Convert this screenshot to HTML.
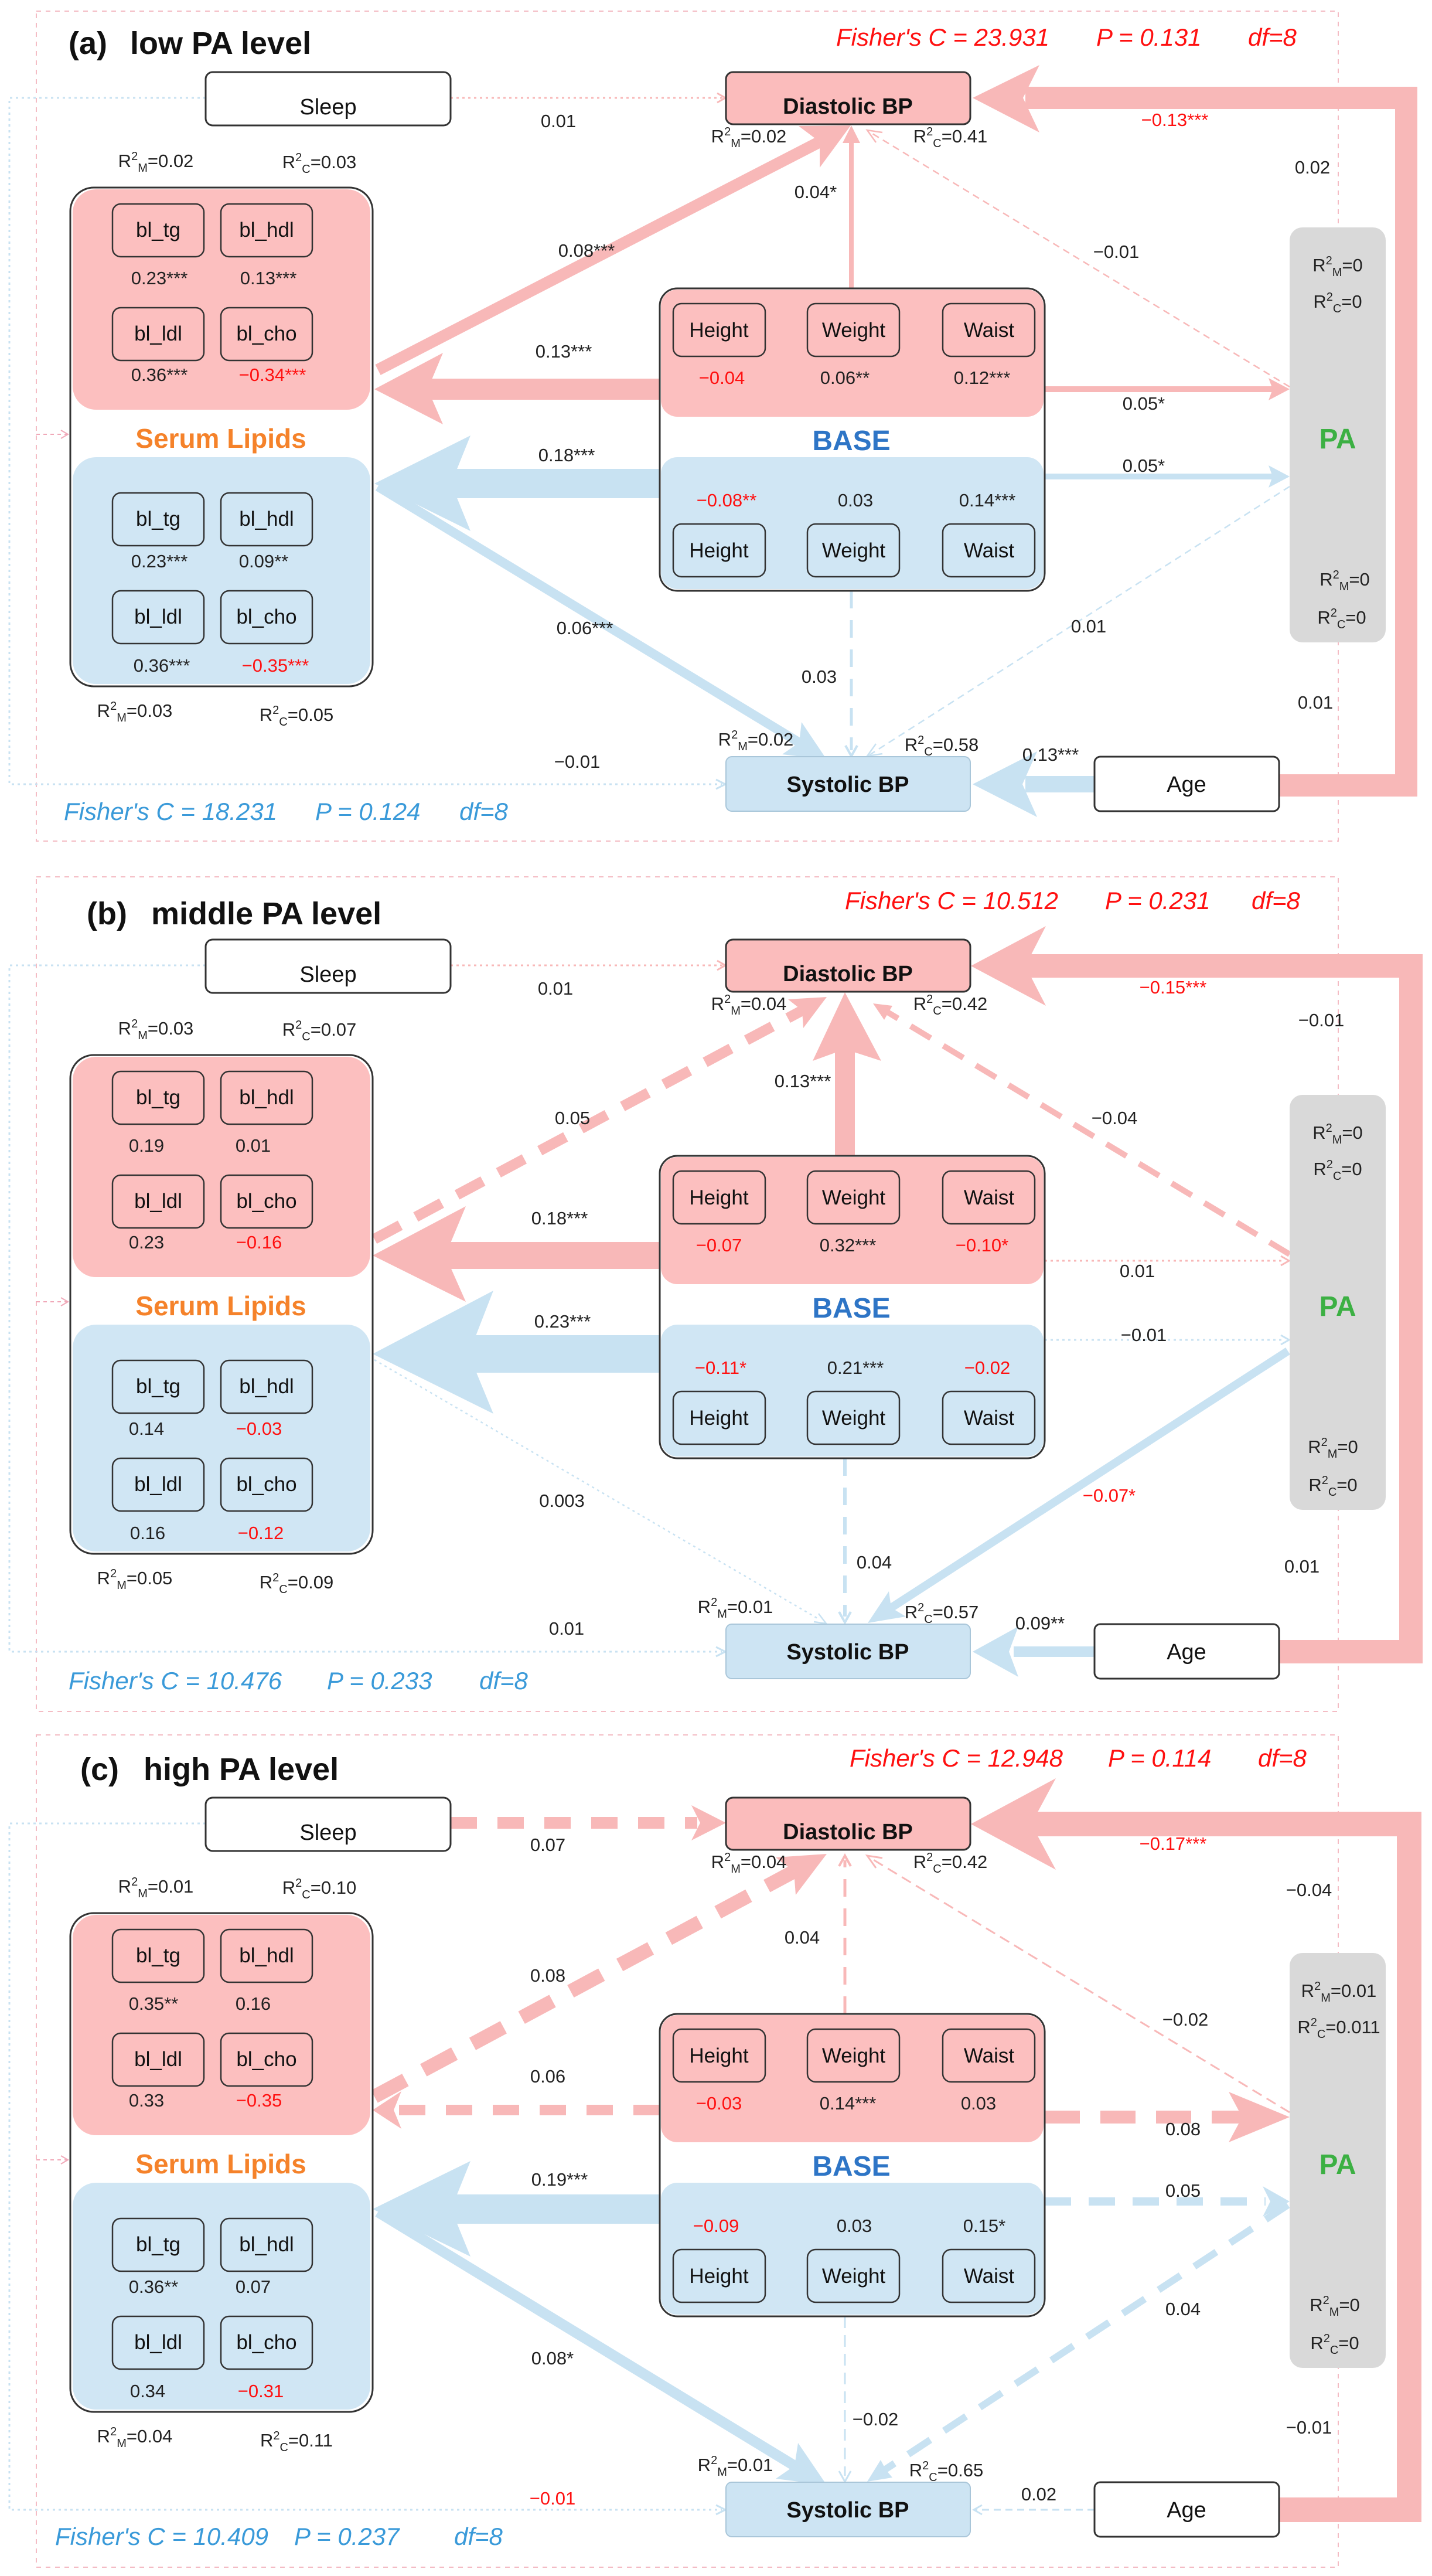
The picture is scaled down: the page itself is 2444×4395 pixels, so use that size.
<!DOCTYPE html>
<html><head><meta charset="utf-8"><style>
html,body{margin:0;padding:0;background:#fff;}
svg{display:block;font-family:"Liberation Sans",Arial,sans-serif;}
.v{font-size:31px;text-anchor:middle;fill:#222;}
.r{fill:#ff1010;}
.nd{font-size:38px;text-anchor:middle;fill:#111;}
.nb{font-size:38px;text-anchor:middle;fill:#111;font-weight:bold;}
.ib{font-size:35px;text-anchor:middle;fill:#111;}
.fr{font-size:42px;font-style:italic;fill:#ff1010;}
.fb{font-size:42px;font-style:italic;fill:#3a9ad9;}
.tt{font-size:54px;font-weight:bold;fill:#111;}
.sl{font-size:46px;font-weight:bold;fill:#f5822a;text-anchor:middle;}
.bs{font-size:48px;font-weight:bold;fill:#2e75c6;text-anchor:middle;}
.pa{font-size:48px;font-weight:bold;fill:#3cb043;text-anchor:middle;}
.box{fill:none;stroke:#333;stroke-width:3;}
.sb{fill:none;stroke:#333;stroke-width:2.5;}
.pk{fill:#fcbfbf;}
.bl{fill:#d0e6f4;}
.ar{fill:#f8b8b8;}
.ab{fill:#c8e2f2;}
</style></head><body>
<svg width="2444" height="4395" viewBox="0 0 2444 4395" xmlns="http://www.w3.org/2000/svg">

<!-- ================= PANEL A ================= -->
<g transform="translate(0,0)">
<rect x="62" y="19" width="2222" height="1416" fill="none" stroke="#f4bcc4" stroke-width="2" stroke-dasharray="8,8"/>
<!-- left dotted lines -->
<polyline points="351,167 16,167 16,1338 1232,1338" fill="none" stroke="#c8e2f2" stroke-width="3" stroke-dasharray="4,6"/>
<polyline points="1222,1330 1238,1338 1222,1346" fill="none" stroke="#c8e2f2" stroke-width="3"/>
<line x1="62" y1="741" x2="114" y2="741" stroke="#f0a8b8" stroke-width="2" stroke-dasharray="6,6"/>
<polyline points="104,734 116,741 104,748" fill="none" stroke="#f0a8b8" stroke-width="2"/>
<!-- sleep -> diastolic dotted -->
<line x1="769" y1="167" x2="1236" y2="167" stroke="#f8b8b8" stroke-width="3" stroke-dasharray="4,6"/>
<polyline points="1224,159 1238,167 1224,175" fill="none" stroke="#f8b8b8" stroke-width="3"/>
<!-- red loop -->
<polyline points="2183,1340 2400,1340 2400,167 1750,167" fill="none" stroke="#f8b8b8" stroke-width="38"/>
<polygon class="ar" points="1660,167 1774,111 1746,167 1774,226"/>
<!-- blue age -> systolic -->
<line x1="1868" y1="1338" x2="1750" y2="1338" stroke="#c8e2f2" stroke-width="28"/>
<polygon class="ab" points="1660,1338 1770,1282 1745,1338 1770,1394"/>
<!-- red BASE->serum -->
<line x1="1126" y1="664" x2="730" y2="664" stroke="#f8b8b8" stroke-width="36"/>
<polygon class="ar" points="639,664 756,602 730,664 756,724"/>
<!-- red diag serum->diastolic -->
<line x1="645" y1="631" x2="1399" y2="242" stroke="#f8b8b8" stroke-width="20"/>
<polygon class="ar" points="1452,214 1399,286 1399,242 1363,215"/>
<!-- blue BASE->serum -->
<line x1="1126" y1="825" x2="770" y2="825" stroke="#c8e2f2" stroke-width="50"/>
<polygon class="ab" points="639,825 803,743 770,825 803,906"/>
<!-- blue diag serum->systolic -->
<line x1="645" y1="830" x2="1364" y2="1267" stroke="#c8e2f2" stroke-width="16"/>
<polygon class="ab" points="1411,1296 1335,1287 1364,1267 1368,1232"/>
<!-- pink vertical BASE->diastolic -->
<line x1="1453" y1="492" x2="1453" y2="235" stroke="#f8b8b8" stroke-width="8"/>
<polygon class="ar" points="1453,214 1438,244 1468,244"/>
<!-- pink BASE->PA -->
<line x1="1783" y1="664" x2="2180" y2="664" stroke="#f8b8b8" stroke-width="10"/>
<polygon class="ar" points="2201,664 2165,645 2172,664 2165,683"/>
<!-- blue BASE->PA -->
<line x1="1783" y1="813" x2="2180" y2="813" stroke="#c8e2f2" stroke-width="10"/>
<polygon class="ab" points="2201,813 2165,794 2172,813 2165,832"/>
<!-- pink dashed PA->diastolic -->
<line x1="2201" y1="660" x2="1484" y2="225" stroke="#f8b8b8" stroke-width="2.5" stroke-dasharray="12,8"/>
<polyline points="1506,226 1480,222 1495,243" fill="none" stroke="#f8b8b8" stroke-width="2.5"/>
<!-- blue dashed PA->systolic -->
<line x1="2201" y1="830" x2="1484" y2="1288" stroke="#c8e2f2" stroke-width="2.5" stroke-dasharray="12,8"/>
<polyline points="1506,1286 1480,1290 1495,1269" fill="none" stroke="#c8e2f2" stroke-width="2.5"/>
<!-- blue dashed vertical BASE->systolic -->
<line x1="1453" y1="1008" x2="1453" y2="1280" stroke="#c8e2f2" stroke-width="5" stroke-dasharray="30,20"/>
<polyline points="1443,1272 1453,1290 1463,1272" fill="none" stroke="#c8e2f2" stroke-width="4"/>

<!-- nodes -->
<rect x="351" y="123" width="418" height="91" rx="12" fill="#fff" stroke="#333" stroke-width="3"/>
<text class="nd" x="560" y="195">Sleep</text>
<rect x="1239" y="123" width="417" height="89" rx="12" fill="#fbbcbc" stroke="#333" stroke-width="3"/>
<text class="nb" x="1447" y="194">Diastolic BP</text>
<rect x="1239" y="1291" width="417" height="93" rx="10" fill="#cde4f3" stroke="#a9c6d9" stroke-width="2"/>
<text class="nb" x="1447" y="1351">Systolic BP</text>
<rect x="1868" y="1291" width="315" height="93" rx="10" fill="#fff" stroke="#333" stroke-width="3"/>
<text class="nd" x="2025" y="1351">Age</text>
<rect x="2201" y="388" width="164" height="708" rx="22" fill="#d9d9d9"/>
<text class="pa" x="2283" y="765">PA</text>
<!-- serum -->
<rect x="120" y="320" width="516" height="851" rx="40" fill="#fff"/>
<rect class="pk" x="124" y="323" width="508" height="376" rx="40"/>
<rect class="bl" x="124" y="780" width="508" height="387" rx="40"/>
<rect class="box" x="120" y="320" width="516" height="851" rx="40"/>
<rect class="sb" x="192" y="348" width="156" height="90" rx="14"/><text class="ib" x="270" y="404">bl_tg</text>
<rect class="sb" x="377" y="348" width="156" height="90" rx="14"/><text class="ib" x="455" y="404">bl_hdl</text>
<rect class="sb" x="192" y="525" width="156" height="90" rx="14"/><text class="ib" x="270" y="581">bl_ldl</text>
<rect class="sb" x="377" y="525" width="156" height="90" rx="14"/><text class="ib" x="455" y="581">bl_cho</text>
<rect class="sb" x="192" y="841" width="156" height="90" rx="14"/><text class="ib" x="270" y="897">bl_tg</text>
<rect class="sb" x="377" y="841" width="156" height="90" rx="14"/><text class="ib" x="455" y="897">bl_hdl</text>
<rect class="sb" x="192" y="1008" width="156" height="90" rx="14"/><text class="ib" x="270" y="1064">bl_ldl</text>
<rect class="sb" x="377" y="1008" width="156" height="90" rx="14"/><text class="ib" x="455" y="1064">bl_cho</text>
<text class="v" x="272" y="485">0.23***</text><text class="v" x="458" y="485">0.13***</text>
<text class="v" x="272" y="650">0.36***</text><text class="v r" x="465" y="650">−0.34***</text>
<text class="v" x="272" y="968">0.23***</text><text class="v" x="450" y="968">0.09**</text>
<text class="v" x="276" y="1146">0.36***</text><text class="v r" x="470" y="1146">−0.35***</text>
<text class="sl" x="377" y="764">Serum Lipids</text>
<!-- base -->
<rect x="1126" y="492" width="657" height="516" rx="30" fill="#fff"/>
<rect class="pk" x="1128" y="494" width="653" height="217" rx="28"/>
<rect class="bl" x="1128" y="780" width="653" height="225" rx="28"/>
<rect class="box" x="1126" y="492" width="657" height="516" rx="30"/>
<rect class="sb" x="1149" y="518" width="157" height="90" rx="14"/><text class="ib" x="1227" y="575">Height</text>
<rect class="sb" x="1378" y="518" width="157" height="90" rx="14"/><text class="ib" x="1457" y="575">Weight</text>
<rect class="sb" x="1609" y="518" width="157" height="90" rx="14"/><text class="ib" x="1688" y="575">Waist</text>
<rect class="sb" x="1149" y="894" width="157" height="90" rx="14"/><text class="ib" x="1227" y="951">Height</text>
<rect class="sb" x="1378" y="894" width="157" height="90" rx="14"/><text class="ib" x="1457" y="951">Weight</text>
<rect class="sb" x="1609" y="894" width="157" height="90" rx="14"/><text class="ib" x="1688" y="951">Waist</text>
<text class="v r" x="1232" y="655">−0.04</text><text class="v" x="1442" y="655">0.06**</text><text class="v" x="1676" y="655">0.12***</text>
<text class="v r" x="1240" y="864">−0.08**</text><text class="v" x="1460" y="864">0.03</text><text class="v" x="1685" y="864">0.14***</text>
<text class="bs" x="1453" y="768">BASE</text>
<!-- R2 labels -->
<text class="v" x="266" y="285">R<tspan font-size="20" dy="-12">2</tspan><tspan font-size="20" dy="20">M</tspan><tspan dy="-8">=0.02</tspan></text>
<text class="v" x="545" y="287">R<tspan font-size="20" dy="-12">2</tspan><tspan font-size="20" dy="20">C</tspan><tspan dy="-8">=0.03</tspan></text>
<text class="v" x="230" y="1223">R<tspan font-size="20" dy="-12">2</tspan><tspan font-size="20" dy="20">M</tspan><tspan dy="-8">=0.03</tspan></text>
<text class="v" x="506" y="1230">R<tspan font-size="20" dy="-12">2</tspan><tspan font-size="20" dy="20">C</tspan><tspan dy="-8">=0.05</tspan></text>
<text class="v" x="1278" y="243">R<tspan font-size="20" dy="-12">2</tspan><tspan font-size="20" dy="20">M</tspan><tspan dy="-8">=0.02</tspan></text>
<text class="v" x="1622" y="243">R<tspan font-size="20" dy="-12">2</tspan><tspan font-size="20" dy="20">C</tspan><tspan dy="-8">=0.41</tspan></text>
<text class="v" x="1290" y="1272">R<tspan font-size="20" dy="-12">2</tspan><tspan font-size="20" dy="20">M</tspan><tspan dy="-8">=0.02</tspan></text>
<text class="v" x="1607" y="1281">R<tspan font-size="20" dy="-12">2</tspan><tspan font-size="20" dy="20">C</tspan><tspan dy="-8">=0.58</tspan></text>
<text class="v" x="2283" y="463">R<tspan font-size="20" dy="-12">2</tspan><tspan font-size="20" dy="20">M</tspan><tspan dy="-8">=0</tspan></text>
<text class="v" x="2283" y="525">R<tspan font-size="20" dy="-12">2</tspan><tspan font-size="20" dy="20">C</tspan><tspan dy="-8">=0</tspan></text>
<text class="v" x="2295" y="999">R<tspan font-size="20" dy="-12">2</tspan><tspan font-size="20" dy="20">M</tspan><tspan dy="-8">=0</tspan></text>
<text class="v" x="2290" y="1064">R<tspan font-size="20" dy="-12">2</tspan><tspan font-size="20" dy="20">C</tspan><tspan dy="-8">=0</tspan></text>
<!-- edge labels -->
<text class="v" x="953" y="217">0.01</text>
<text class="v r" x="2005" y="215">−0.13***</text>
<text class="v" x="2240" y="296">0.02</text>
<text class="v" x="1392" y="338">0.04*</text>
<text class="v" x="1001" y="438">0.08***</text>
<text class="v" x="1905" y="440">−0.01</text>
<text class="v" x="962" y="610">0.13***</text>
<text class="v" x="1952" y="699">0.05*</text>
<text class="v" x="967" y="787">0.18***</text>
<text class="v" x="1952" y="805">0.05*</text>
<text class="v" x="998" y="1082">0.06***</text>
<text class="v" x="1858" y="1079">0.01</text>
<text class="v" x="1398" y="1165">0.03</text>
<text class="v" x="2245" y="1209">0.01</text>
<text class="v" x="1793" y="1298">0.13***</text>
<text class="v" x="985" y="1310">−0.01</text>
<!-- title / fisher -->
<text class="tt" x="117" y="92">(a)</text><text class="tt" x="222" y="92">low PA level</text>
<text class="fr" x="1427" y="78">Fisher's C = 23.931</text><text class="fr" x="1871" y="78">P = 0.131</text><text class="fr" x="2130" y="78">df=8</text>
<text class="fb" x="109" y="1399">Fisher's C = 18.231</text><text class="fb" x="538" y="1399">P = 0.124</text><text class="fb" x="784" y="1399">df=8</text>
</g>

<!-- ================= PANEL B ================= -->
<g transform="translate(0,1480)">
<rect x="62" y="16" width="2222" height="1424" fill="none" stroke="#f4bcc4" stroke-width="2" stroke-dasharray="8,8"/>
<polyline points="351,167 16,167 16,1338 1232,1338" fill="none" stroke="#c8e2f2" stroke-width="3" stroke-dasharray="4,6"/>
<polyline points="1222,1330 1238,1338 1222,1346" fill="none" stroke="#c8e2f2" stroke-width="3"/>
<line x1="62" y1="741" x2="114" y2="741" stroke="#f0a8b8" stroke-width="2" stroke-dasharray="6,6"/>
<polyline points="104,734 116,741 104,748" fill="none" stroke="#f0a8b8" stroke-width="2"/>
<line x1="769" y1="167" x2="1236" y2="167" stroke="#f8b8b8" stroke-width="3" stroke-dasharray="4,6"/>
<polyline points="1224,159 1238,167 1224,175" fill="none" stroke="#f8b8b8" stroke-width="3"/>
<polyline points="2183,1338 2408,1338 2408,168 1750,168" fill="none" stroke="#f8b8b8" stroke-width="40"/>
<polygon class="ar" points="1657,168 1785,100 1750,168 1785,236"/>
<line x1="1868" y1="1338" x2="1730" y2="1338" stroke="#c8e2f2" stroke-width="18"/>
<polygon class="ab" points="1660,1338 1738,1295 1722,1338 1738,1381"/>
<!-- red BASE->serum -->
<line x1="1126" y1="662" x2="760" y2="662" stroke="#f8b8b8" stroke-width="46"/>
<polygon class="ar" points="636,662 795,578 760,662 795,741"/>
<!-- red dashed diag serum->diastolic -->
<line x1="639" y1="634" x2="1369" y2="244" stroke="#f8b8b8" stroke-width="18" stroke-dasharray="50,30"/>
<polygon class="ar" points="1411,221 1371,274 1369,244 1345,225"/>
<!-- red BASE->diastolic vertical thick -->
<line x1="1442" y1="492" x2="1442" y2="300" stroke="#f8b8b8" stroke-width="34"/>
<polygon class="ar" points="1442,213 1387,330 1442,310 1504,330"/>
<!-- pink dashed PA->diastolic -->
<line x1="2201" y1="660" x2="1510" y2="244" stroke="#f8b8b8" stroke-width="10" stroke-dasharray="40,25"/>
<polygon class="ar" points="1490,232 1523,236 1509,260"/>
<!-- dotted BASE->PA -->
<line x1="1783" y1="671" x2="2190" y2="671" stroke="#f8b8b8" stroke-width="3" stroke-dasharray="4,6"/>
<polyline points="2186,663 2200,671 2186,679" fill="none" stroke="#f8b8b8" stroke-width="3"/>
<line x1="1783" y1="806" x2="2190" y2="806" stroke="#c8e2f2" stroke-width="3" stroke-dasharray="4,6"/>
<polyline points="2186,798 2200,806 2186,814" fill="none" stroke="#c8e2f2" stroke-width="3"/>
<!-- blue BASE->serum -->
<line x1="1126" y1="830" x2="800" y2="830" stroke="#c8e2f2" stroke-width="64"/>
<polygon class="ab" points="636,830 842,722 800,830 842,932"/>
<!-- blue dotted serum->systolic -->
<line x1="639" y1="840" x2="1395" y2="1281" stroke="#c8e2f2" stroke-width="2.5" stroke-dasharray="4,6"/>
<polyline points="1389,1287 1410,1290 1397,1273" fill="none" stroke="#c8e2f2" stroke-width="2.5"/>
<!-- blue dashed vertical -->
<line x1="1442" y1="1008" x2="1442" y2="1278" stroke="#c8e2f2" stroke-width="6" stroke-dasharray="30,20"/>
<polyline points="1432,1270 1442,1288 1452,1270" fill="none" stroke="#c8e2f2" stroke-width="4"/>
<!-- blue PA->systolic -->
<line x1="2198" y1="825" x2="1521" y2="1263" stroke="#c8e2f2" stroke-width="14"/>
<polygon class="ab" points="1481,1289 1517,1235 1521,1263 1546,1278"/>

<rect x="351" y="123" width="418" height="91" rx="12" fill="#fff" stroke="#333" stroke-width="3"/>
<text class="nd" x="560" y="195">Sleep</text>
<rect x="1239" y="123" width="417" height="89" rx="12" fill="#fbbcbc" stroke="#333" stroke-width="3"/>
<text class="nb" x="1447" y="194">Diastolic BP</text>
<rect x="1239" y="1291" width="417" height="93" rx="10" fill="#cde4f3" stroke="#a9c6d9" stroke-width="2"/>
<text class="nb" x="1447" y="1351">Systolic BP</text>
<rect x="1868" y="1291" width="315" height="93" rx="10" fill="#fff" stroke="#333" stroke-width="3"/>
<text class="nd" x="2025" y="1351">Age</text>
<rect x="2201" y="388" width="164" height="708" rx="22" fill="#d9d9d9"/>
<text class="pa" x="2283" y="765">PA</text>
<rect x="120" y="320" width="516" height="851" rx="40" fill="#fff"/>
<rect class="pk" x="124" y="323" width="508" height="376" rx="40"/>
<rect class="bl" x="124" y="780" width="508" height="387" rx="40"/>
<rect class="box" x="120" y="320" width="516" height="851" rx="40"/>
<rect class="sb" x="192" y="348" width="156" height="90" rx="14"/><text class="ib" x="270" y="404">bl_tg</text>
<rect class="sb" x="377" y="348" width="156" height="90" rx="14"/><text class="ib" x="455" y="404">bl_hdl</text>
<rect class="sb" x="192" y="525" width="156" height="90" rx="14"/><text class="ib" x="270" y="581">bl_ldl</text>
<rect class="sb" x="377" y="525" width="156" height="90" rx="14"/><text class="ib" x="455" y="581">bl_cho</text>
<rect class="sb" x="192" y="841" width="156" height="90" rx="14"/><text class="ib" x="270" y="897">bl_tg</text>
<rect class="sb" x="377" y="841" width="156" height="90" rx="14"/><text class="ib" x="455" y="897">bl_hdl</text>
<rect class="sb" x="192" y="1008" width="156" height="90" rx="14"/><text class="ib" x="270" y="1064">bl_ldl</text>
<rect class="sb" x="377" y="1008" width="156" height="90" rx="14"/><text class="ib" x="455" y="1064">bl_cho</text>
<text class="v" x="250" y="485">0.19</text><text class="v" x="432" y="485">0.01</text>
<text class="v" x="250" y="650">0.23</text><text class="v r" x="442" y="650">−0.16</text>
<text class="v" x="250" y="968">0.14</text><text class="v r" x="442" y="968">−0.03</text>
<text class="v" x="252" y="1146">0.16</text><text class="v r" x="445" y="1146">−0.12</text>
<text class="sl" x="377" y="764">Serum Lipids</text>
<rect x="1126" y="492" width="657" height="516" rx="30" fill="#fff"/>
<rect class="pk" x="1128" y="494" width="653" height="217" rx="28"/>
<rect class="bl" x="1128" y="780" width="653" height="225" rx="28"/>
<rect class="box" x="1126" y="492" width="657" height="516" rx="30"/>
<rect class="sb" x="1149" y="518" width="157" height="90" rx="14"/><text class="ib" x="1227" y="575">Height</text>
<rect class="sb" x="1378" y="518" width="157" height="90" rx="14"/><text class="ib" x="1457" y="575">Weight</text>
<rect class="sb" x="1609" y="518" width="157" height="90" rx="14"/><text class="ib" x="1688" y="575">Waist</text>
<rect class="sb" x="1149" y="894" width="157" height="90" rx="14"/><text class="ib" x="1227" y="951">Height</text>
<rect class="sb" x="1378" y="894" width="157" height="90" rx="14"/><text class="ib" x="1457" y="951">Weight</text>
<rect class="sb" x="1609" y="894" width="157" height="90" rx="14"/><text class="ib" x="1688" y="951">Waist</text>
<text class="v r" x="1227" y="655">−0.07</text><text class="v" x="1447" y="655">0.32***</text><text class="v r" x="1676" y="655">−0.10*</text>
<text class="v r" x="1230" y="864">−0.11*</text><text class="v" x="1460" y="864">0.21***</text><text class="v r" x="1685" y="864">−0.02</text>
<text class="bs" x="1453" y="768">BASE</text>
<text class="v" x="266" y="285">R<tspan font-size="20" dy="-12">2</tspan><tspan font-size="20" dy="20">M</tspan><tspan dy="-8">=0.03</tspan></text>
<text class="v" x="545" y="287">R<tspan font-size="20" dy="-12">2</tspan><tspan font-size="20" dy="20">C</tspan><tspan dy="-8">=0.07</tspan></text>
<text class="v" x="230" y="1223">R<tspan font-size="20" dy="-12">2</tspan><tspan font-size="20" dy="20">M</tspan><tspan dy="-8">=0.05</tspan></text>
<text class="v" x="506" y="1230">R<tspan font-size="20" dy="-12">2</tspan><tspan font-size="20" dy="20">C</tspan><tspan dy="-8">=0.09</tspan></text>
<text class="v" x="1278" y="243">R<tspan font-size="20" dy="-12">2</tspan><tspan font-size="20" dy="20">M</tspan><tspan dy="-8">=0.04</tspan></text>
<text class="v" x="1622" y="243">R<tspan font-size="20" dy="-12">2</tspan><tspan font-size="20" dy="20">C</tspan><tspan dy="-8">=0.42</tspan></text>
<text class="v" x="1255" y="1272">R<tspan font-size="20" dy="-12">2</tspan><tspan font-size="20" dy="20">M</tspan><tspan dy="-8">=0.01</tspan></text>
<text class="v" x="1607" y="1281">R<tspan font-size="20" dy="-12">2</tspan><tspan font-size="20" dy="20">C</tspan><tspan dy="-8">=0.57</tspan></text>
<text class="v" x="2283" y="463">R<tspan font-size="20" dy="-12">2</tspan><tspan font-size="20" dy="20">M</tspan><tspan dy="-8">=0</tspan></text>
<text class="v" x="2283" y="525">R<tspan font-size="20" dy="-12">2</tspan><tspan font-size="20" dy="20">C</tspan><tspan dy="-8">=0</tspan></text>
<text class="v" x="2275" y="999">R<tspan font-size="20" dy="-12">2</tspan><tspan font-size="20" dy="20">M</tspan><tspan dy="-8">=0</tspan></text>
<text class="v" x="2275" y="1064">R<tspan font-size="20" dy="-12">2</tspan><tspan font-size="20" dy="20">C</tspan><tspan dy="-8">=0</tspan></text>
<text class="v" x="948" y="217">0.01</text>
<text class="v r" x="2002" y="215">−0.15***</text>
<text class="v" x="2255" y="271">−0.01</text>
<text class="v" x="1370" y="375">0.13***</text>
<text class="v" x="977" y="438">0.05</text>
<text class="v" x="1902" y="438">−0.04</text>
<text class="v" x="955" y="609">0.18***</text>
<text class="v" x="1941" y="699">0.01</text>
<text class="v" x="960" y="785">0.23***</text>
<text class="v" x="1952" y="808">−0.01</text>
<text class="v" x="959" y="1091">0.003</text>
<text class="v r" x="1893" y="1082">−0.07*</text>
<text class="v" x="1492" y="1196">0.04</text>
<text class="v" x="2222" y="1203">0.01</text>
<text class="v" x="1775" y="1300">0.09**</text>
<text class="v" x="967" y="1309">0.01</text>
<text class="tt" x="148" y="97">(b)</text><text class="tt" x="258" y="97">middle PA level</text>
<text class="fr" x="1442" y="71">Fisher's C = 10.512</text><text class="fr" x="1886" y="71">P = 0.231</text><text class="fr" x="2136" y="71">df=8</text>
<text class="fb" x="117" y="1402">Fisher's C = 10.476</text><text class="fb" x="558" y="1402">P = 0.233</text><text class="fb" x="818" y="1402">df=8</text>
</g>

<!-- ================= PANEL C ================= -->
<g transform="translate(0,2944)">
<rect x="62" y="16" width="2222" height="1420" fill="none" stroke="#f4bcc4" stroke-width="2" stroke-dasharray="8,8"/>
<polyline points="351,167 16,167 16,1338 1232,1338" fill="none" stroke="#c8e2f2" stroke-width="3" stroke-dasharray="4,6"/>
<polyline points="1222,1330 1238,1338 1222,1346" fill="none" stroke="#c8e2f2" stroke-width="3"/>
<line x1="62" y1="741" x2="114" y2="741" stroke="#f0a8b8" stroke-width="2" stroke-dasharray="6,6"/>
<polyline points="104,734 116,741 104,748" fill="none" stroke="#f0a8b8" stroke-width="2"/>
<!-- sleep -> diastolic dashed thick -->
<line x1="769" y1="166" x2="1190" y2="166" stroke="#f8b8b8" stroke-width="20" stroke-dasharray="45,35"/>
<polygon class="ar" points="1239,166 1180,136 1195,166 1180,196"/>
<polyline points="2183,1338 2405,1338 2405,168 1750,168" fill="none" stroke="#f8b8b8" stroke-width="42"/>
<polygon class="ar" points="1657,168 1802,90 1760,168 1802,246"/>
<!-- age->systolic dashed thin -->
<line x1="1868" y1="1338" x2="1665" y2="1338" stroke="#c8e2f2" stroke-width="3" stroke-dasharray="12,8"/>
<polyline points="1676,1330 1662,1338 1676,1346" fill="none" stroke="#c8e2f2" stroke-width="3"/>
<!-- red dashed BASE->serum -->
<line x1="1126" y1="656" x2="665" y2="656" stroke="#f8b8b8" stroke-width="18" stroke-dasharray="45,35"/>
<polygon class="ar" points="636,656 685,624 672,656 685,688"/>
<!-- red dashed diag -->
<line x1="639" y1="633" x2="1355" y2="249" stroke="#f8b8b8" stroke-width="24" stroke-dasharray="60,35"/>
<polygon class="ar" points="1411,219 1358,289 1355,249 1324,225"/>
<!-- red dashed thin vertical -->
<line x1="1442" y1="492" x2="1442" y2="230" stroke="#f8b8b8" stroke-width="5" stroke-dasharray="30,20"/>
<polyline points="1432,240 1442,222 1452,240" fill="none" stroke="#f8b8b8" stroke-width="4"/>
<!-- red dashed BASE->PA -->
<line x1="1783" y1="668" x2="2120" y2="668" stroke="#f8b8b8" stroke-width="22" stroke-dasharray="60,35"/>
<polygon class="ar" points="2201,668 2097,625 2120,668 2097,711"/>
<!-- pink dashed PA->diastolic thin -->
<line x1="2201" y1="660" x2="1484" y2="225" stroke="#f8b8b8" stroke-width="3" stroke-dasharray="18,10"/>
<polyline points="1506,226 1480,222 1495,243" fill="none" stroke="#f8b8b8" stroke-width="3"/>
<!-- blue BASE->serum -->
<line x1="1126" y1="825" x2="770" y2="825" stroke="#c8e2f2" stroke-width="50"/>
<polygon class="ab" points="636,825 803,743 770,825 803,906"/>
<!-- blue dashed BASE->PA -->
<line x1="1783" y1="812" x2="2160" y2="812" stroke="#c8e2f2" stroke-width="14" stroke-dasharray="45,30"/>
<polygon class="ab" points="2201,812 2155,786 2168,812 2155,838"/>
<!-- blue diag serum->systolic -->
<line x1="645" y1="830" x2="1356" y2="1263" stroke="#c8e2f2" stroke-width="18"/>
<polygon class="ab" points="1411,1296 1324,1285 1356,1263 1362,1224"/>
<!-- blue dashed thin vertical -->
<line x1="1442" y1="1008" x2="1442" y2="1280" stroke="#c8e2f2" stroke-width="3" stroke-dasharray="20,12"/>
<polyline points="1432,1272 1442,1290 1452,1272" fill="none" stroke="#c8e2f2" stroke-width="3"/>
<!-- blue dashed PA->systolic thick -->
<line x1="2198" y1="818" x2="1505" y2="1273" stroke="#c8e2f2" stroke-width="12" stroke-dasharray="45,28"/>
<polygon class="ab" points="1480,1290 1503,1253 1512,1270 1523,1283"/>

<rect x="351" y="123" width="418" height="91" rx="12" fill="#fff" stroke="#333" stroke-width="3"/>
<text class="nd" x="560" y="195">Sleep</text>
<rect x="1239" y="123" width="417" height="89" rx="12" fill="#fbbcbc" stroke="#333" stroke-width="3"/>
<text class="nb" x="1447" y="194">Diastolic BP</text>
<rect x="1239" y="1291" width="417" height="93" rx="10" fill="#cde4f3" stroke="#a9c6d9" stroke-width="2"/>
<text class="nb" x="1447" y="1351">Systolic BP</text>
<rect x="1868" y="1291" width="315" height="93" rx="10" fill="#fff" stroke="#333" stroke-width="3"/>
<text class="nd" x="2025" y="1351">Age</text>
<rect x="2201" y="388" width="164" height="708" rx="22" fill="#d9d9d9"/>
<text class="pa" x="2283" y="765">PA</text>
<rect x="120" y="320" width="516" height="851" rx="40" fill="#fff"/>
<rect class="pk" x="124" y="323" width="508" height="376" rx="40"/>
<rect class="bl" x="124" y="780" width="508" height="387" rx="40"/>
<rect class="box" x="120" y="320" width="516" height="851" rx="40"/>
<rect class="sb" x="192" y="348" width="156" height="90" rx="14"/><text class="ib" x="270" y="404">bl_tg</text>
<rect class="sb" x="377" y="348" width="156" height="90" rx="14"/><text class="ib" x="455" y="404">bl_hdl</text>
<rect class="sb" x="192" y="525" width="156" height="90" rx="14"/><text class="ib" x="270" y="581">bl_ldl</text>
<rect class="sb" x="377" y="525" width="156" height="90" rx="14"/><text class="ib" x="455" y="581">bl_cho</text>
<rect class="sb" x="192" y="841" width="156" height="90" rx="14"/><text class="ib" x="270" y="897">bl_tg</text>
<rect class="sb" x="377" y="841" width="156" height="90" rx="14"/><text class="ib" x="455" y="897">bl_hdl</text>
<rect class="sb" x="192" y="1008" width="156" height="90" rx="14"/><text class="ib" x="270" y="1064">bl_ldl</text>
<rect class="sb" x="377" y="1008" width="156" height="90" rx="14"/><text class="ib" x="455" y="1064">bl_cho</text>
<text class="v" x="262" y="485">0.35**</text><text class="v" x="432" y="485">0.16</text>
<text class="v" x="250" y="650">0.33</text><text class="v r" x="442" y="650">−0.35</text>
<text class="v" x="262" y="968">0.36**</text><text class="v" x="432" y="968">0.07</text>
<text class="v" x="252" y="1146">0.34</text><text class="v r" x="445" y="1146">−0.31</text>
<text class="sl" x="377" y="764">Serum Lipids</text>
<rect x="1126" y="492" width="657" height="516" rx="30" fill="#fff"/>
<rect class="pk" x="1128" y="494" width="653" height="217" rx="28"/>
<rect class="bl" x="1128" y="780" width="653" height="225" rx="28"/>
<rect class="box" x="1126" y="492" width="657" height="516" rx="30"/>
<rect class="sb" x="1149" y="518" width="157" height="90" rx="14"/><text class="ib" x="1227" y="575">Height</text>
<rect class="sb" x="1378" y="518" width="157" height="90" rx="14"/><text class="ib" x="1457" y="575">Weight</text>
<rect class="sb" x="1609" y="518" width="157" height="90" rx="14"/><text class="ib" x="1688" y="575">Waist</text>
<rect class="sb" x="1149" y="894" width="157" height="90" rx="14"/><text class="ib" x="1227" y="951">Height</text>
<rect class="sb" x="1378" y="894" width="157" height="90" rx="14"/><text class="ib" x="1457" y="951">Weight</text>
<rect class="sb" x="1609" y="894" width="157" height="90" rx="14"/><text class="ib" x="1688" y="951">Waist</text>
<text class="v r" x="1227" y="655">−0.03</text><text class="v" x="1447" y="655">0.14***</text><text class="v" x="1670" y="655">0.03</text>
<text class="v r" x="1222" y="864">−0.09</text><text class="v" x="1458" y="864">0.03</text><text class="v" x="1680" y="864">0.15*</text>
<text class="bs" x="1453" y="768">BASE</text>
<text class="v" x="266" y="285">R<tspan font-size="20" dy="-12">2</tspan><tspan font-size="20" dy="20">M</tspan><tspan dy="-8">=0.01</tspan></text>
<text class="v" x="545" y="287">R<tspan font-size="20" dy="-12">2</tspan><tspan font-size="20" dy="20">C</tspan><tspan dy="-8">=0.10</tspan></text>
<text class="v" x="230" y="1223">R<tspan font-size="20" dy="-12">2</tspan><tspan font-size="20" dy="20">M</tspan><tspan dy="-8">=0.04</tspan></text>
<text class="v" x="506" y="1230">R<tspan font-size="20" dy="-12">2</tspan><tspan font-size="20" dy="20">C</tspan><tspan dy="-8">=0.11</tspan></text>
<text class="v" x="1278" y="243">R<tspan font-size="20" dy="-12">2</tspan><tspan font-size="20" dy="20">M</tspan><tspan dy="-8">=0.04</tspan></text>
<text class="v" x="1622" y="243">R<tspan font-size="20" dy="-12">2</tspan><tspan font-size="20" dy="20">C</tspan><tspan dy="-8">=0.42</tspan></text>
<text class="v" x="1255" y="1272">R<tspan font-size="20" dy="-12">2</tspan><tspan font-size="20" dy="20">M</tspan><tspan dy="-8">=0.01</tspan></text>
<text class="v" x="1615" y="1281">R<tspan font-size="20" dy="-12">2</tspan><tspan font-size="20" dy="20">C</tspan><tspan dy="-8">=0.65</tspan></text>
<text class="v" x="2285" y="463">R<tspan font-size="20" dy="-12">2</tspan><tspan font-size="20" dy="20">M</tspan><tspan dy="-8">=0.01</tspan></text>
<text class="v" x="2285" y="525">R<tspan font-size="20" dy="-12">2</tspan><tspan font-size="20" dy="20">C</tspan><tspan dy="-8">=0.011</tspan></text>
<text class="v" x="2278" y="999">R<tspan font-size="20" dy="-12">2</tspan><tspan font-size="20" dy="20">M</tspan><tspan dy="-8">=0</tspan></text>
<text class="v" x="2278" y="1064">R<tspan font-size="20" dy="-12">2</tspan><tspan font-size="20" dy="20">C</tspan><tspan dy="-8">=0</tspan></text>
<text class="v" x="935" y="214">0.07</text>
<text class="v r" x="2002" y="212">−0.17***</text>
<text class="v" x="2234" y="291">−0.04</text>
<text class="v" x="1369" y="372">0.04</text>
<text class="v" x="935" y="437">0.08</text>
<text class="v" x="2023" y="512">−0.02</text>
<text class="v" x="935" y="609">0.06</text>
<text class="v" x="2019" y="699">0.08</text>
<text class="v" x="955" y="785">0.19***</text>
<text class="v" x="2019" y="804">0.05</text>
<text class="v" x="2019" y="1006">0.04</text>
<text class="v" x="943" y="1090">0.08*</text>
<text class="v" x="1494" y="1194">−0.02</text>
<text class="v" x="2234" y="1208">−0.01</text>
<text class="v" x="1773" y="1322">0.02</text>
<text class="v r" x="943" y="1329">−0.01</text>
<text class="tt" x="137" y="93">(c)</text><text class="tt" x="245" y="93">high PA level</text>
<text class="fr" x="1450" y="70">Fisher's C = 12.948</text><text class="fr" x="1891" y="70">P = 0.114</text><text class="fr" x="2147" y="70">df=8</text>
<text class="fb" x="94" y="1398">Fisher's C = 10.409</text><text class="fb" x="502" y="1398">P = 0.237</text><text class="fb" x="775" y="1398">df=8</text>
</g>
</svg>
</body></html>
